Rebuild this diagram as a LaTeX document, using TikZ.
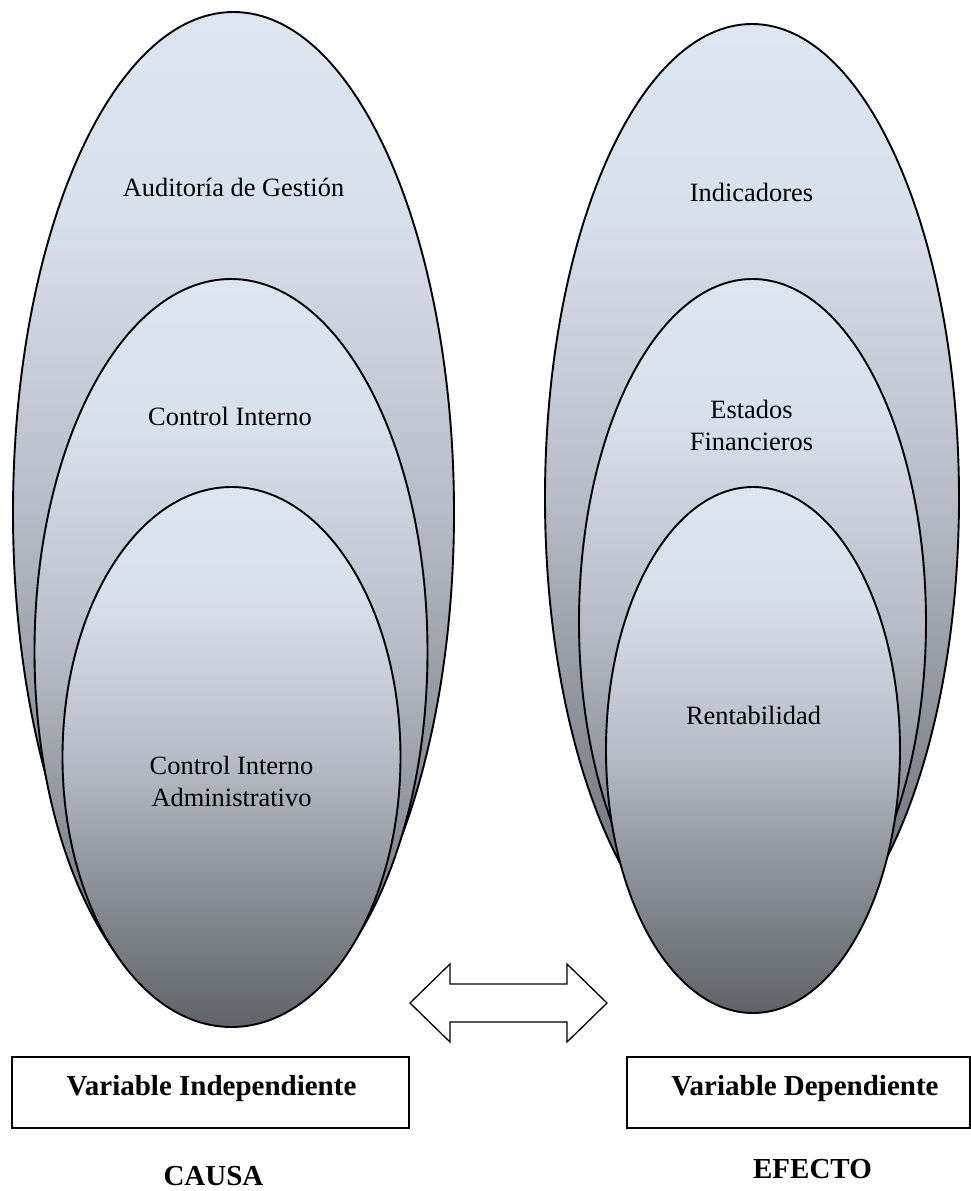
\documentclass[tikz,border=0pt]{standalone}
\usepackage{fontspec}
\setmainfont{Liberation Serif}
\usetikzlibrary{shapes.geometric}

% steel-blue to slate-grey fill used by every oval
\definecolor{ovA}{RGB}{95,98,105}
\definecolor{ovB}{RGB}{138,142,150}
\definecolor{ovC}{RGB}{183,189,198}
\definecolor{ovD}{RGB}{216,224,236}
\definecolor{ovE}{RGB}{221,229,241}
\pgfdeclareverticalshading{ovalshade}{100bp}{%
  color(0bp)=(ovA); color(25bp)=(ovA); color(37.5bp)=(ovB);
  color(50bp)=(ovC); color(65bp)=(ovD); color(75bp)=(ovE); color(100bp)=(ovE)}

\tikzset{
  oval/.style={ellipse, draw=black, line width=0.95pt, shading=ovalshade,
    inner sep=0pt, outer sep=0pt},
  ovaltext/.style={font=\fontsize{13.2}{16}\selectfont, inner sep=0pt, anchor=base},
  varbox/.style={draw=black, line width=0.85pt, fill=white, inner sep=0pt},
  boldtext/.style={font=\fontsize{14.5}{17}\selectfont\bfseries, inner sep=0pt, anchor=base},
  blockarrow/.style={draw=black, line width=0.65pt, fill=white, line join=miter}
}

\begin{document}
\begin{tikzpicture}[x=0.5pt, y=-0.5pt]
\useasboundingbox (0,0) rectangle (971,1191);

% cause side: nested ovals
\node[oval, minimum width=220.5pt, minimum height=500.5pt] (audit)   at (233.5,512.5) {};
\node[oval, minimum width=196.5pt, minimum height=372.5pt] (control) at (231,651.5) {};
\node[oval, minimum width=169pt,   minimum height=270pt]   (admin)   at (231.5,757)   {};

% effect side: nested ovals
\node[oval, minimum width=207pt,   minimum height=474pt]   (indic)   at (752,498)   {};
\node[oval, minimum width=173.5pt, minimum height=343pt]   (estados) at (752.5,622) {};
\node[oval, minimum width=147pt,   minimum height=263pt]   (rentab)  at (753,750)   {};

% oval captions
\node[ovaltext] (tAudit)   at (233.5,196) {Auditoría de Gestión};
\node[ovaltext] (tControl) at (230,425)   {Control Interno};
\node[ovaltext] (tAdminA)  at (231.5,774) {Control Interno};
\node[ovaltext] (tAdminB)  at (231.5,806) {Administrativo};
\node[ovaltext] (tIndic)   at (751.5,201) {Indicadores};
\node[ovaltext] (tEstA)    at (751.5,418) {Estados};
\node[ovaltext] (tEstB)    at (751.5,450) {Financieros};
\node[ovaltext] (tRentab)  at (753.5,724) {Rentabilidad};

% two-headed block arrow between the groups
\draw[blockarrow] (410,1003) -- (450,964) -- (450,984) -- (567,984) -- (567,964)
  -- (607,1003) -- (567,1042) -- (567,1022) -- (450,1022) -- (450,1042) -- cycle;

% variable boxes
\node[varbox, minimum width=198.5pt, minimum height=35.5pt] (vindep) at (210.5,1092.5) {};
\node[varbox, minimum width=171.5pt, minimum height=35.5pt] (vdep)   at (798.5,1092.5) {};
\node[boldtext] (tVindep) at (211.5,1095) {Variable Independiente};
\node[boldtext] (tVdep)   at (805,1095)   {Variable Dependiente};

% bottom captions
\node[boldtext] (causa)  at (213.5,1185) {CAUSA};
\node[boldtext] (efecto) at (812.5,1178) {EFECTO};
\end{tikzpicture}
\end{document}
